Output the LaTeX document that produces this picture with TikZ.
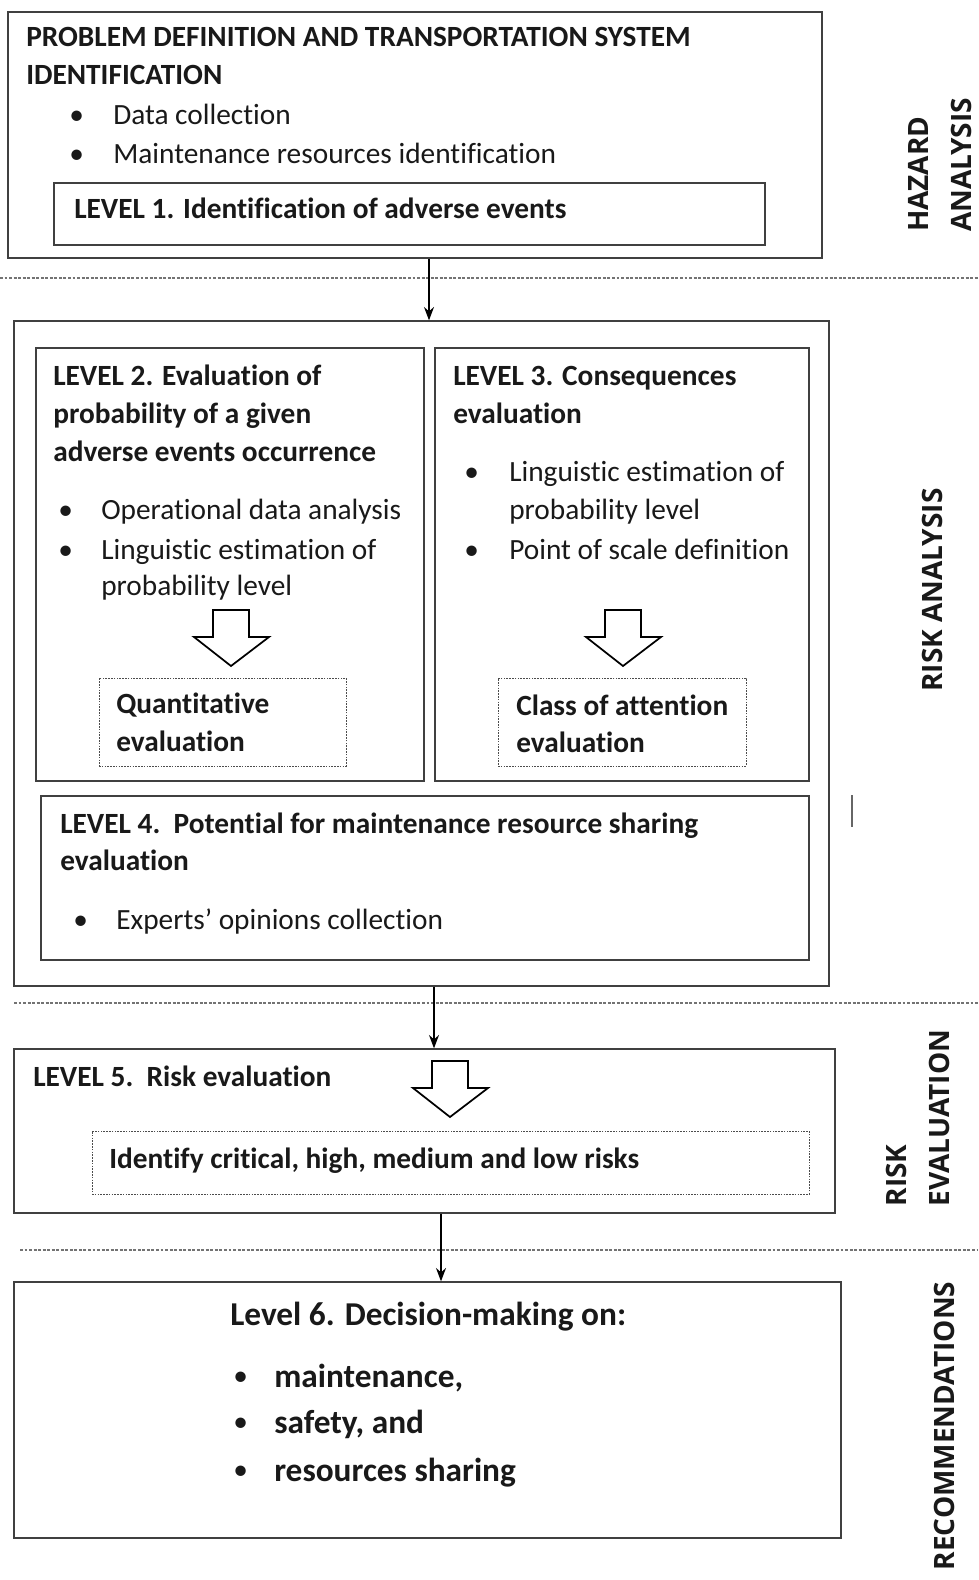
\documentclass[tikz,border=0pt]{standalone}
\usepackage{fontspec}
\setmainfont{Carlito}[Ligatures={NoCommon}]
\newfontfamily\sidefont{Open Sans}
\usetikzlibrary{arrows.meta,fit}

\tikzset{
  box/.style={draw=black!75, line width=1pt, inner sep=0pt},
  dbox/.style={draw=black!70, line width=0.7pt, dash pattern=on 1.2pt off 0.9pt, inner sep=0pt},
  txt/.style={inner sep=0pt, anchor=base west, font=\fontsize{22}{26}\selectfont, text=black!90},
  btxt/.style={txt, font=\fontsize{22}{26}\selectfont\bfseries},
  bigtxt/.style={txt, font=\fontsize{25}{30}\selectfont\bfseries},
  side/.style={inner sep=0pt, rotate=90, font=\fontsize{21}{32}\selectfont\sidefont\bfseries, align=left, text=black!90},
  link/.style={draw=black, line width=1pt, -{Stealth[length=10pt,width=7.5pt]}},
  sep/.style={draw=black!55, line width=0.8pt, dash pattern=on 2.2pt off 1.2pt},
  hollow/.style={draw=black, line width=1.3pt, fill=white, line join=miter},
}

% rectangle node spanning two corners
\newcommand\boxat[6]{%
  \path (#2,#3) coordinate (#1-nw) (#4,#5) coordinate (#1-se);
  \node[#6, fit=(#1-nw)(#1-se)] (#1) {};}

% outlined block arrow pointing down, top centre at (#1,#2)
\newcommand\hollowarrow[2]{%
  \draw[hollow, shift={(#1,#2)}] (-18,0) -- (18,0) -- (18,27) -- (38,27) -- (0,56)
    -- (-37,27) -- (-18,27) -- cycle;}

\begin{document}
\begin{tikzpicture}[x=0.75pt, y=-0.75pt]
\fill[white] (0,0) rectangle (978,1580);
\useasboundingbox (0,0) rectangle (978,1580);

% ---------- hazard analysis ----------
\boxat{top}{8}{12}{822}{258}{box}
\node[btxt] (t1) at (26,47) {PROBLEM DEFINITION AND TRANSPORTATION SYSTEM};
\node[btxt] (t2) at (26,85) {IDENTIFICATION};
\node[txt] (b1d) at (69,125) {\textbullet};
\node[txt] (b1) at (113,125) {Data collection};
\node[txt] (b2d) at (69,164) {\textbullet};
\node[txt] (b2) at (113,164) {Maintenance resources identification};
\boxat{lv1}{54}{183}{765}{245}{box}
\node[btxt] (lv1t) at (74,219) {LEVEL 1. Identification of adverse events};

\node[side] (hz) at (940,165) {HAZARD\\ANALYSIS};

\draw[sep] (0,278) -- (978,278);

% ---------- risk analysis ----------
\boxat{ra}{14}{321}{829}{986}{box}
\boxat{lv2}{36}{348}{424}{781}{box}
\boxat{lv3}{435}{348}{809}{781}{box}

\node[btxt] (l2a) at (53,385) {LEVEL 2. Evaluation of};
\node[btxt] (l2b) at (53,423) {probability of a given};
\node[btxt] (l2c) at (53,461) {adverse events occurrence};
\node[txt] (l2d1) at (58,519) {\textbullet};
\node[txt] (l2e) at (101,519) {Operational data analysis};
\node[txt] (l2d2) at (58,559) {\textbullet};
\node[txt] (l2f) at (101,559) {Linguistic estimation of};
\node[txt] (l2g) at (101,595) {probability level};
\hollowarrow{231}{610}
\boxat{qe}{99}{678}{346}{766}{dbox}
\node[btxt] (qe1) at (116,713) {Quantitative};
\node[btxt] (qe2) at (116,751) {evaluation};

\node[btxt] (l3a) at (453,385) {LEVEL 3. Consequences};
\node[btxt] (l3b) at (453,423) {evaluation};
\node[txt] (l3d1) at (464,481) {\textbullet};
\node[txt] (l3c) at (509,481) {Linguistic estimation of};
\node[txt] (l3d) at (509,519) {probability level};
\node[txt] (l3d2) at (464,559) {\textbullet};
\node[txt] (l3e) at (509,559) {Point of scale definition};
\hollowarrow{623}{610}
\boxat{ca}{498}{678}{746}{766}{dbox}
\node[btxt] (ca1) at (516,715) {Class of attention};
\node[btxt] (ca2) at (516,752) {evaluation};

\boxat{lv4}{41}{796}{809}{960}{box}
\node[btxt] (l4a) at (60,833) {LEVEL 4.\ \ Potential for maintenance resource sharing};
\node[btxt] (l4b) at (60,870) {evaluation};
\node[txt] (l4d) at (73,929) {\textbullet};
\node[txt] (l4c) at (116,929) {Experts’ opinions collection};

\draw[black!60, line width=1pt] (852,795) -- (852,827);
\node[side] (ran) at (932,590) {RISK ANALYSIS};

\draw[sep] (14,1003) -- (978,1003);

% ---------- risk evaluation ----------
\boxat{lv5}{14}{1049}{835}{1213}{box}
\node[btxt] (l5a) at (33,1086) {LEVEL 5.\ \ Risk evaluation};
\hollowarrow{450}{1061}
\boxat{ir}{92}{1131}{809}{1194}{dbox}
\node[btxt] (ir1) at (109,1168) {Identify critical, high, medium and low risks};
\node[side] (rev) at (918,1118) {RISK\\EVALUATION};

\draw[sep] (20,1250) -- (978,1250);

% ---------- recommendations ----------
\boxat{lv6}{14}{1282}{841}{1538}{box}
\node[bigtxt] (l6a) at (230,1325) {Level 6. Decision-making on:};
\node[txt] (l6d1) at (233,1385) {\textbullet};
\node[bigtxt] (l6b) at (274,1387) {maintenance,};
\node[txt] (l6d2) at (233,1431) {\textbullet};
\node[bigtxt] (l6c) at (274,1433) {safety, and};
\node[txt] (l6d3) at (233,1479) {\textbullet};
\node[bigtxt] (l6e) at (274,1481) {resources sharing};
\node[side] (rec) at (944,1426) {RECOMMENDATIONS};

% ---------- flow between stages ----------
\coordinate (x1) at (429,0);
\coordinate (x2) at (434,0);
\coordinate (x3) at (441,0);
\draw[link] (top.south -| x1) -- (ra.north -| x1);
\draw[link] (ra.south -| x2) -- (lv5.north -| x2);
\draw[link] (lv5.south -| x3) -- (lv6.north -| x3);
\end{tikzpicture}
\end{document}
